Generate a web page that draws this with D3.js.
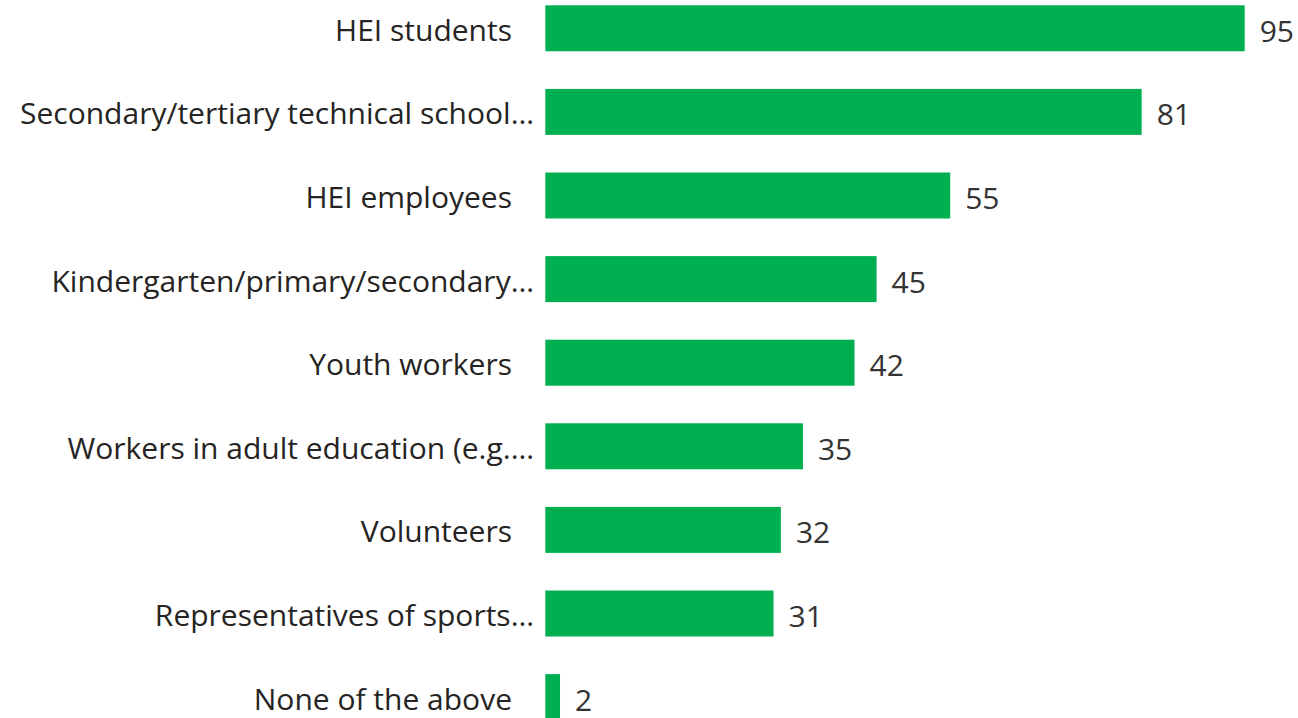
<!DOCTYPE html>
<html>
<head>
<meta charset="utf-8">
<script src="https://cdn.jsdelivr.net/npm/d3@7"></script>
<style>
  html, body { margin: 0; padding: 0; background: #ffffff; }
  svg { display: block; }
</style>
</head>
<body>
<svg id="chart" width="1298" height="718"></svg>
<script>
// Target groups and their counts
const categories = [
  "HEI students",
  "Secondary/tertiary technical school…",
  "HEI employees",
  "Kindergarten/primary/secondary…",
  "Youth workers",
  "Workers in adult education (e.g.…",
  "Volunteers",
  "Representatives of sports…",
  "None of the above"
];
const values = [95, 81, 55, 45, 42, 35, 32, 31, 2];

const width = 1298, height = 718;
const barLeft = 545.3;
const svg = d3.select("#chart");
const font = "'Open Sans', 'Noto Sans', sans-serif";
const fontSize = 30;

const x = d3.scaleLinear().domain([0, 95]).range([barLeft, 1244.7]);
const y = d3.scaleBand()
  .domain(categories)
  .range([-13.5, 738.9])
  .paddingInner(0.45)
  .paddingOuter(0.225);

const data = categories.map((c, i) => ({ c, v: values[i] }));

svg.append("g").selectAll("rect")
  .data(data)
  .join("rect")
  .attr("x", x(0))
  .attr("y", d => y(d.c))
  .attr("width", d => x(d.v) - x(0))
  .attr("height", y.bandwidth())
  .attr("fill", "#00B050");

// value labels to the right of each bar
svg.append("g").selectAll("text")
  .data(data)
  .join("text")
  .attr("x", d => x(d.v) + 15)
  .attr("y", d => y(d.c) + y.bandwidth() / 2 + 2)
  .attr("dominant-baseline", "central")
  .attr("font-family", font)
  .attr("font-size", fontSize)
  .attr("fill", "#333333")
  .text(d => d.v);

// category axis labels, right aligned against the bars
svg.append("g").selectAll("text")
  .data(data)
  .join("text")
  .attr("x", d => d.c.endsWith("…") ? 534 : 512)
  .attr("y", d => y(d.c) + y.bandwidth() / 2 + 1)
  .attr("text-anchor", "end")
  .attr("dominant-baseline", "central")
  .attr("font-family", font)
  .attr("font-size", fontSize)
  .attr("fill", "#252423")
  .text(d => d.c);
</script>
</body>
</html>
